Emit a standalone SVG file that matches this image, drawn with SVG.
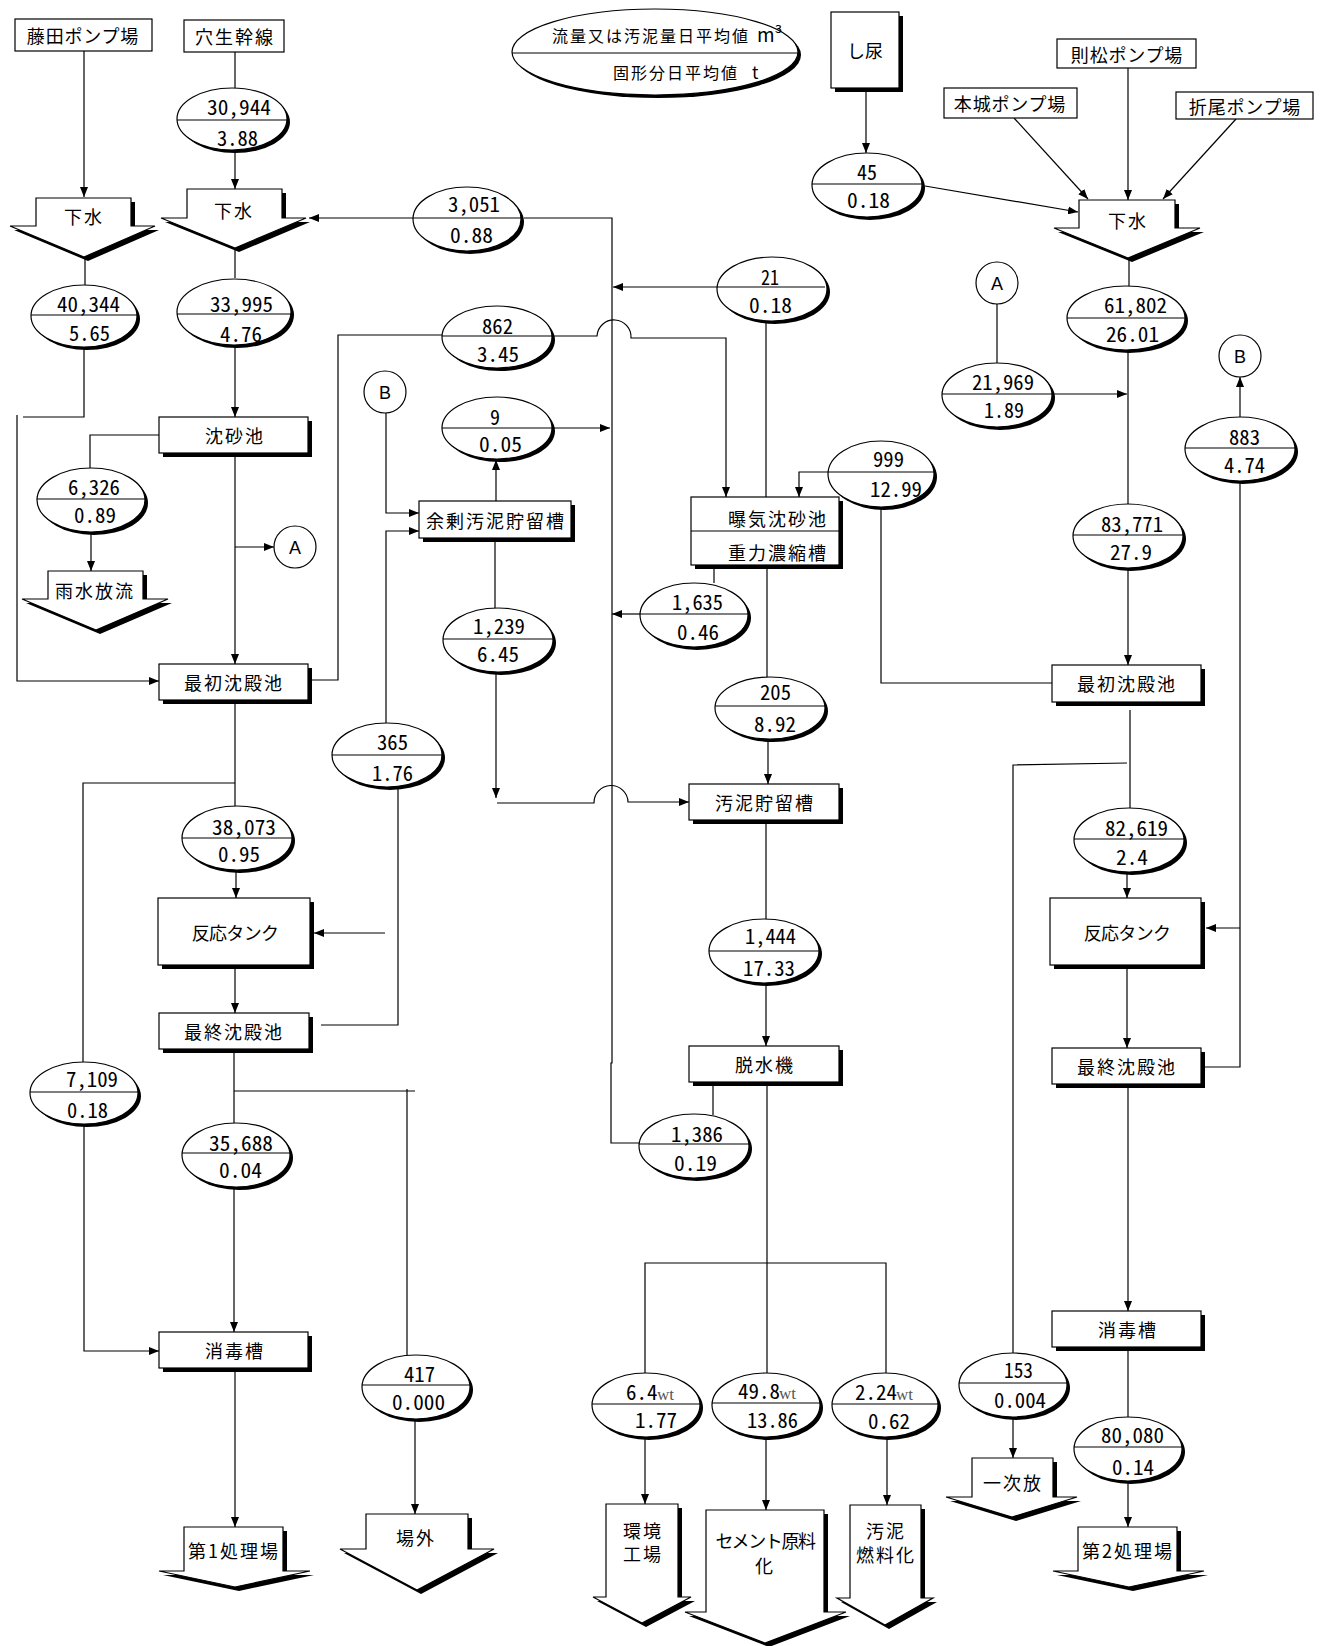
<svg xmlns="http://www.w3.org/2000/svg" width="1327" height="1646" viewBox="0 0 1327 1646">
<defs>
<style>
.ln{fill:none;stroke:#000;stroke-width:1.2}
.ar{marker-end:url(#ah)}
.bx{fill:#fff;stroke:#000;stroke-width:1.2}
.sh{fill:#000}
.dv{fill:none;stroke:#000;stroke-width:1.2}
.lb{font-family:"Noto Sans CJK JP","Noto Sans CJK SC",sans-serif;font-size:18px;letter-spacing:2px;text-anchor:middle;dominant-baseline:central;fill:#000}
.n{font-family:"Noto Sans CJK JP","Liberation Sans",sans-serif;font-size:21px;font-feature-settings:"hwid" 1;fill:#000}
.wt{font-family:"Liberation Serif",serif;font-size:17px;fill:#555;font-feature-settings:normal}
.ci{font-family:"Liberation Sans",sans-serif;font-size:18px;text-anchor:middle}
.lg{font-family:"Noto Sans CJK JP","Noto Sans CJK SC",sans-serif;font-size:16px;letter-spacing:2px}
</style>
<marker id="ah" viewBox="0 0 10 8" refX="10" refY="4" markerWidth="10" markerHeight="8" markerUnits="userSpaceOnUse" orient="auto"><path d="M0,0L10,4L0,8z"/></marker>
</defs>
<rect width="1327" height="1646" fill="#fff"/>

<g id="connectors">
<path class="ln ar" d="M84,51V197"/>
<path class="ln" d="M235,52V88"/>
<path class="ln ar" d="M235,150V189"/>
<path class="ln" d="M85,257V285"/>
<path class="ln" d="M235,248V278"/>
<path class="ln" d="M84,347V417H23"/>
<path class="ln ar" d="M17,415V681H159"/>
<path class="ln ar" d="M235,346V417"/>
<path class="ln ar" d="M413,218H309"/>
<path class="ln" d="M524,218H612V1063H611V1143H640"/>
<path class="ln ar" d="M717,287H613"/>
<path class="ln" d="M766,321V497"/>
<path class="ln" d="M308,680H338V335H442"/>
<path class="ln ar" d="M552,336H597A17,17 0 0 1 631,338H726V497"/>
<path class="ln ar" d="M552,428H610"/>
<path class="ln ar" d="M496,501V460"/>
<path class="ln ar" d="M386,413V513H419"/>
<path class="ln ar" d="M386,723V531H419"/>
<path class="ln" d="M495,538V608"/>
<path class="ln ar" d="M496,672V798"/>
<path class="ln ar" d="M497,803H594A17,17 0 0 1 628,802H689"/>
<path class="ln ar" d="M828,472H799V497"/>
<path class="ln" d="M881,507V683H1052"/>
<path class="ln" d="M714,565V583"/>
<path class="ln ar" d="M640,614H612"/>
<path class="ln" d="M767,565V677"/>
<path class="ln ar" d="M768,739V784"/>
<path class="ln" d="M766,820V920"/>
<path class="ln ar" d="M766,983V1046"/>
<path class="ln" d="M713,1082V1115"/>
<path class="ln" d="M767,1082V1373"/>
<path class="ln" d="M645,1373V1263H886V1373"/>
<path class="ln ar" d="M645,1437V1504"/>
<path class="ln ar" d="M766,1437V1510"/>
<path class="ln ar" d="M887,1437V1505"/>
<path class="ln ar" d="M866,88V153"/>
<path class="ln ar" d="M925,186L1078,212"/>
<path class="ln ar" d="M1014,118L1088,199"/>
<path class="ln ar" d="M1128,68V200"/>
<path class="ln ar" d="M1236,119L1163,199"/>
<path class="ln" d="M1129,258V286"/>
<path class="ln" d="M997,304V363"/>
<path class="ln ar" d="M1052,394H1127"/>
<path class="ln" d="M1128,350V504"/>
<path class="ln ar" d="M1240,417V377"/>
<path class="ln" d="M1240,481V1067H1205"/>
<path class="ln ar" d="M1240,928H1206"/>
<path class="ln ar" d="M1128,568V665"/>
<path class="ln" d="M1130,710V808"/>
<path class="ln" d="M1127,763L1013,765V1353"/>
<path class="ln ar" d="M1127,872V898"/>
<path class="ln ar" d="M1127,965V1048"/>
<path class="ln ar" d="M1128,1084V1311"/>
<path class="ln" d="M1128,1347V1417"/>
<path class="ln ar" d="M1128,1481V1527"/>
<path class="ln ar" d="M1013,1417V1458"/>
<path class="ln" d="M159,435H90V468"/>
<path class="ln ar" d="M91,531V571"/>
<path class="ln ar" d="M235,453V664"/>
<path class="ln ar" d="M235,547H274"/>
<path class="ln" d="M235,700V807"/>
<path class="ln" d="M235,783H83V1062"/>
<path class="ln ar" d="M236,870V898"/>
<path class="ln" d="M398,787V1025H321"/>
<path class="ln ar" d="M385,933H314"/>
<path class="ln ar" d="M235,965V1013"/>
<path class="ln" d="M234,1049V1123"/>
<path class="ln" d="M234,1091H415"/>
<path class="ln" d="M407,1089V1355"/>
<path class="ln ar" d="M84,1124V1351H159"/>
<path class="ln ar" d="M234,1187V1332"/>
<path class="ln ar" d="M235,1368V1527"/>
<path class="ln ar" d="M415,1419V1514"/>
</g>

<g id="legend"><ellipse class="sh" cx="658" cy="55" rx="143" ry="43"/><ellipse class="bx" cx="655" cy="52" rx="143" ry="43"/><path class="dv" d="M512,53H798"/>
<text class="lg" x="552" y="42">流量又は汚泥量日平均値 <tspan x="757" style="letter-spacing:0;font-size:19px">m³</tspan></text>
<text class="lg" x="613" y="79">固形分日平均値 <tspan x="752" style="letter-spacing:0;font-size:17px">t</tspan></text></g>

<g id="fujita"><rect class="bx" x="15" y="19" width="137" height="32"/><text class="lb" x="83" y="35" style="letter-spacing:0.8px">藤田ポンプ場</text></g>
<g id="anao"><rect class="bx" x="184" y="20" width="100" height="32"/><text class="lb" x="235" y="36">穴生幹線</text></g>
<g id="norimatsu"><rect class="bx" x="1057" y="39" width="139" height="29"/><text class="lb" x="1127" y="54" style="letter-spacing:0.8px">則松ポンプ場</text></g>
<g id="honjo"><rect class="bx" x="944" y="88" width="133" height="30"/><text class="lb" x="1010" y="103" style="letter-spacing:0.8px">本城ポンプ場</text></g>
<g id="orio"><rect class="bx" x="1176" y="92" width="137" height="27"/><text class="lb" x="1245" y="106" style="letter-spacing:0.8px">折尾ポンプ場</text></g>
<g id="shinyo"><rect class="sh" x="835" y="16" width="68" height="76"/><rect class="bx" x="831" y="12" width="68" height="76"/><text class="lb" x="865" y="50" style="letter-spacing:0">し尿</text></g>

<g id="gesui1"><polygon class="sh" transform="translate(4,4)" points="36,198 131,198 131,226 155,226 84,257 10,226 36,226"/><polygon class="bx" points="36,198 131,198 131,226 155,226 84,257 10,226 36,226"/><text class="lb" x="84" y="216">下水</text></g>
<g id="gesui2"><polygon class="sh" transform="translate(4,4)" points="187,189 282,189 282,218 306,218 235,248 161,218 187,218"/><polygon class="bx" points="187,189 282,189 282,218 306,218 235,248 161,218 187,218"/><text class="lb" x="234" y="210">下水</text></g>
<g id="gesui3"><polygon class="sh" transform="translate(4,4)" points="1079,200 1175,200 1175,228 1200,228 1128,258 1054,228 1079,228"/><polygon class="bx" points="1079,200 1175,200 1175,228 1200,228 1128,258 1054,228 1079,228"/><text class="lb" x="1128" y="220">下水</text></g>
<g id="usui"><polygon class="sh" transform="translate(4,4)" points="48,571 143,571 143,599 168,599 96,630 22,599 48,599"/><polygon class="bx" points="48,571 143,571 143,599 168,599 96,630 22,599 48,599"/><text class="lb" x="95" y="590">雨水放流</text></g>
<g id="dai1"><polygon class="sh" transform="translate(4,4)" points="184,1527 283,1527 283,1571 310,1571 235,1587 159,1571 184,1571"/><polygon class="bx" points="184,1527 283,1527 283,1571 310,1571 235,1587 159,1571 184,1571"/><text class="lb" x="234" y="1550">第1処理場</text></g>
<g id="jogai"><polygon class="sh" transform="translate(4,4)" points="366,1514 468,1514 468,1549 494,1549 417,1590 340,1549 366,1549"/><polygon class="bx" points="366,1514 468,1514 468,1549 494,1549 417,1590 340,1549 366,1549"/><text class="lb" x="416" y="1537">場外</text></g>
<g id="kankyo"><polygon class="sh" transform="translate(4,4)" points="606,1504 678,1504 678,1597 691,1597 642,1623 593,1597 606,1597"/><polygon class="bx" points="606,1504 678,1504 678,1597 691,1597 642,1623 593,1597 606,1597"/><text class="lb"><tspan x="643" y="1530">環境</tspan><tspan x="643" y="1553">工場</tspan></text></g>
<g id="cement"><polygon class="sh" transform="translate(4,4)" points="706,1510 824,1510 824,1612 846,1612 765,1643 685,1612 706,1612"/><polygon class="bx" points="706,1510 824,1510 824,1612 846,1612 765,1643 685,1612 706,1612"/><text class="lb"><tspan x="765" y="1540" style="letter-spacing:-1.4px">セメント原料</tspan><tspan x="765" y="1565">化</tspan></text></g>
<g id="nenryo"><polygon class="sh" transform="translate(4,4)" points="850,1505 921,1505 921,1598 933,1598 885,1625 837,1598 850,1598"/><polygon class="bx" points="850,1505 921,1505 921,1598 933,1598 885,1625 837,1598 850,1598"/><text class="lb"><tspan x="886" y="1530">汚泥</tspan><tspan x="886" y="1554">燃料化</tspan></text></g>
<g id="ichiji"><polygon class="sh" transform="translate(4,4)" points="972,1458 1053,1458 1053,1497 1077,1497 1012,1517 946,1497 972,1497"/><polygon class="bx" points="972,1458 1053,1458 1053,1497 1077,1497 1012,1517 946,1497 972,1497"/><text class="lb" x="1013" y="1482">一次放</text></g>
<g id="dai2"><polygon class="sh" transform="translate(4,4)" points="1078,1527 1177,1527 1177,1571 1204,1571 1129,1587 1053,1571 1078,1571"/><polygon class="bx" points="1078,1527 1177,1527 1177,1571 1204,1571 1129,1587 1053,1571 1078,1571"/><text class="lb" x="1128" y="1550">第2処理場</text></g>

<g id="chinsachi"><rect class="sh" x="163" y="421" width="149" height="36"/><rect class="bx" x="159" y="417" width="149" height="36"/><text class="lb" x="235" y="435">沈砂池</text></g>
<g id="saisho1"><rect class="sh" x="163" y="668" width="149" height="36"/><rect class="bx" x="159" y="664" width="149" height="36"/><text class="lb" x="234" y="682">最初沈殿池</text></g>
<g id="hanno1"><rect class="sh" x="162" y="902" width="152" height="67"/><rect class="bx" x="158" y="898" width="152" height="67"/><text class="lb" x="235" y="932" style="letter-spacing:-0.7px">反応タンク</text></g>
<g id="saishu1"><rect class="sh" x="163" y="1017" width="150" height="36"/><rect class="bx" x="159" y="1013" width="150" height="36"/><text class="lb" x="234" y="1031">最終沈殿池</text></g>
<g id="shodoku1"><rect class="sh" x="163" y="1336" width="149" height="36"/><rect class="bx" x="159" y="1332" width="149" height="36"/><text class="lb" x="235" y="1350">消毒槽</text></g>
<g id="yojo"><rect class="sh" x="423" y="505" width="152" height="37"/><rect class="bx" x="419" y="501" width="152" height="37"/><text class="lb" x="496" y="520">余剰汚泥貯留槽</text></g>
<g id="bakki"><rect class="sh" x="695" y="501" width="148" height="68"/><rect class="bx" x="691" y="497" width="148" height="68"/><path class="dv" d="M691,531H839"/><text class="lb" x="778" y="518">曝気沈砂池</text><text class="lb" x="778" y="552">重力濃縮槽</text></g>
<g id="odei"><rect class="sh" x="693" y="788" width="150" height="36"/><rect class="bx" x="689" y="784" width="150" height="36"/><text class="lb" x="765" y="802">汚泥貯留槽</text></g>
<g id="dassui"><rect class="sh" x="693" y="1050" width="150" height="36"/><rect class="bx" x="689" y="1046" width="150" height="36"/><text class="lb" x="765" y="1064">脱水機</text></g>
<g id="saisho2"><rect class="sh" x="1056" y="669" width="149" height="37"/><rect class="bx" x="1052" y="665" width="149" height="37"/><text class="lb" x="1127" y="683">最初沈殿池</text></g>
<g id="hanno2"><rect class="sh" x="1054" y="902" width="151" height="67"/><rect class="bx" x="1050" y="898" width="151" height="67"/><text class="lb" x="1127" y="932" style="letter-spacing:-0.7px">反応タンク</text></g>
<g id="saishu2"><rect class="sh" x="1056" y="1052" width="149" height="36"/><rect class="bx" x="1052" y="1048" width="149" height="36"/><text class="lb" x="1127" y="1066">最終沈殿池</text></g>
<g id="shodoku2"><rect class="sh" x="1056" y="1315" width="149" height="36"/><rect class="bx" x="1052" y="1311" width="149" height="36"/><text class="lb" x="1128" y="1329">消毒槽</text></g>

<g id="cB1"><circle class="bx" cx="385" cy="392" r="21"/><text class="ci" x="385" y="399">B</text></g>
<g id="cA1"><circle class="bx" cx="295" cy="547" r="21"/><text class="ci" x="295" y="554">A</text></g>
<g id="cA2"><circle class="bx" cx="997" cy="283" r="21"/><text class="ci" x="997" y="290">A</text></g>
<g id="cB2"><circle class="bx" cx="1240" cy="356" r="21"/><text class="ci" x="1240" y="363">B</text></g>

<g id="q1"><ellipse class="sh" cx="235" cy="122" rx="55" ry="31"/><ellipse class="bx" cx="232" cy="119" rx="55" ry="31"/><path class="dv" d="M177,120H287"/><text class="n" x="207" y="115" textLength="64" lengthAdjust="spacingAndGlyphs">30,944</text><text class="n" x="217" y="146" textLength="41" lengthAdjust="spacingAndGlyphs">3.88</text></g>
<g id="q2"><ellipse class="sh" cx="87" cy="319" rx="53" ry="31"/><ellipse class="bx" cx="84" cy="316" rx="53" ry="31"/><path class="dv" d="M31,315H137"/><text class="n" x="57" y="312" textLength="63" lengthAdjust="spacingAndGlyphs">40,344</text><text class="n" x="69" y="341" textLength="41" lengthAdjust="spacingAndGlyphs">5.65</text></g>
<g id="q3"><ellipse class="sh" cx="237" cy="315" rx="57" ry="33"/><ellipse class="bx" cx="234" cy="312" rx="57" ry="33"/><path class="dv" d="M177,314H291"/><text class="n" x="210" y="312" textLength="63" lengthAdjust="spacingAndGlyphs">33,995</text><text class="n" x="220" y="342" textLength="42" lengthAdjust="spacingAndGlyphs">4.76</text></g>
<g id="q4"><ellipse class="sh" cx="470" cy="222" rx="54" ry="32"/><ellipse class="bx" cx="467" cy="219" rx="54" ry="32"/><path class="dv" d="M413,218H521"/><text class="n" x="448" y="212" textLength="52" lengthAdjust="spacingAndGlyphs">3,051</text><text class="n" x="450" y="243" textLength="43" lengthAdjust="spacingAndGlyphs">0.88</text></g>
<g id="q5"><ellipse class="sh" cx="870" cy="188" rx="55" ry="32"/><ellipse class="bx" cx="867" cy="185" rx="55" ry="32"/><path class="dv" d="M812,184H922"/><text class="n" x="857" y="180" textLength="20" lengthAdjust="spacingAndGlyphs">45</text><text class="n" x="847" y="208" textLength="43" lengthAdjust="spacingAndGlyphs">0.18</text></g>
<g id="q6"><ellipse class="sh" cx="775" cy="292" rx="55" ry="32"/><ellipse class="bx" cx="772" cy="289" rx="55" ry="32"/><path class="dv" d="M717,287H825"/><text class="n" x="761" y="285" textLength="18" lengthAdjust="spacingAndGlyphs">21</text><text class="n" x="749" y="313" textLength="43" lengthAdjust="spacingAndGlyphs">0.18</text></g>
<g id="q7"><ellipse class="sh" cx="500" cy="340" rx="55" ry="31"/><ellipse class="bx" cx="497" cy="337" rx="55" ry="31"/><path class="dv" d="M442,336H552"/><text class="n" x="482" y="334" textLength="31" lengthAdjust="spacingAndGlyphs">862</text><text class="n" x="477" y="362" textLength="42" lengthAdjust="spacingAndGlyphs">3.45</text></g>
<g id="q8"><ellipse class="sh" cx="500" cy="431" rx="55" ry="31"/><ellipse class="bx" cx="497" cy="428" rx="55" ry="31"/><path class="dv" d="M442,428H552"/><text class="n" x="490" y="425" textLength="10" lengthAdjust="spacingAndGlyphs">9</text><text class="n" x="479" y="452" textLength="43" lengthAdjust="spacingAndGlyphs">0.05</text></g>
<g id="q9"><ellipse class="sh" cx="1129" cy="321" rx="59" ry="32"/><ellipse class="bx" cx="1126" cy="318" rx="59" ry="32"/><path class="dv" d="M1067,318H1185"/><text class="n" x="1104" y="313" textLength="63" lengthAdjust="spacingAndGlyphs">61,802</text><text class="n" x="1106" y="342" textLength="53" lengthAdjust="spacingAndGlyphs">26.01</text></g>
<g id="q10"><ellipse class="sh" cx="1000" cy="398" rx="55" ry="32"/><ellipse class="bx" cx="997" cy="395" rx="55" ry="32"/><path class="dv" d="M942,394H1052"/><text class="n" x="972" y="390" textLength="62" lengthAdjust="spacingAndGlyphs">21,969</text><text class="n" x="984" y="418" textLength="40" lengthAdjust="spacingAndGlyphs">1.89</text></g>
<g id="q11"><ellipse class="sh" cx="1243" cy="452" rx="55" ry="32"/><ellipse class="bx" cx="1240" cy="449" rx="55" ry="32"/><path class="dv" d="M1185,448H1295"/><text class="n" x="1229" y="445" textLength="31" lengthAdjust="spacingAndGlyphs">883</text><text class="n" x="1224" y="473" textLength="41" lengthAdjust="spacingAndGlyphs">4.74</text></g>
<g id="q12"><ellipse class="sh" cx="884" cy="477" rx="53" ry="33"/><ellipse class="bx" cx="881" cy="474" rx="53" ry="33"/><path class="dv" d="M828,472H934"/><text class="n" x="873" y="467" textLength="31" lengthAdjust="spacingAndGlyphs">999</text><text class="n" x="870" y="497" textLength="52" lengthAdjust="spacingAndGlyphs">12.99</text></g>
<g id="q13"><ellipse class="sh" cx="1131" cy="539" rx="55" ry="32"/><ellipse class="bx" cx="1128" cy="536" rx="55" ry="32"/><path class="dv" d="M1073,535H1183"/><text class="n" x="1101" y="532" textLength="62" lengthAdjust="spacingAndGlyphs">83,771</text><text class="n" x="1110" y="560" textLength="42" lengthAdjust="spacingAndGlyphs">27.9</text></g>
<g id="q14"><ellipse class="sh" cx="94" cy="503" rx="54" ry="32"/><ellipse class="bx" cx="91" cy="500" rx="54" ry="32"/><path class="dv" d="M37,499H145"/><text class="n" x="68" y="495" textLength="52" lengthAdjust="spacingAndGlyphs">6,326</text><text class="n" x="74" y="523" textLength="42" lengthAdjust="spacingAndGlyphs">0.89</text></g>
<g id="q15"><ellipse class="sh" cx="501" cy="643" rx="55" ry="32"/><ellipse class="bx" cx="498" cy="640" rx="55" ry="32"/><path class="dv" d="M443,639H553"/><text class="n" x="473" y="634" textLength="52" lengthAdjust="spacingAndGlyphs">1,239</text><text class="n" x="477" y="662" textLength="42" lengthAdjust="spacingAndGlyphs">6.45</text></g>
<g id="q16"><ellipse class="sh" cx="697" cy="618" rx="54" ry="32"/><ellipse class="bx" cx="694" cy="615" rx="54" ry="32"/><path class="dv" d="M640,614H748"/><text class="n" x="672" y="610" textLength="51" lengthAdjust="spacingAndGlyphs">1,635</text><text class="n" x="677" y="640" textLength="42" lengthAdjust="spacingAndGlyphs">0.46</text></g>
<g id="q17"><ellipse class="sh" cx="773" cy="711" rx="55" ry="31"/><ellipse class="bx" cx="770" cy="708" rx="55" ry="31"/><path class="dv" d="M715,706H825"/><text class="n" x="760" y="700" textLength="31" lengthAdjust="spacingAndGlyphs">205</text><text class="n" x="754" y="732" textLength="42" lengthAdjust="spacingAndGlyphs">8.92</text></g>
<g id="q18"><ellipse class="sh" cx="390" cy="758" rx="55" ry="32"/><ellipse class="bx" cx="387" cy="755" rx="55" ry="32"/><path class="dv" d="M332,755H442"/><text class="n" x="377" y="750" textLength="31" lengthAdjust="spacingAndGlyphs">365</text><text class="n" x="372" y="781" textLength="41" lengthAdjust="spacingAndGlyphs">1.76</text></g>
<g id="q19"><ellipse class="sh" cx="240" cy="841" rx="55" ry="32"/><ellipse class="bx" cx="237" cy="838" rx="55" ry="32"/><path class="dv" d="M182,838H292"/><text class="n" x="212" y="835" textLength="64" lengthAdjust="spacingAndGlyphs">38,073</text><text class="n" x="218" y="862" textLength="42" lengthAdjust="spacingAndGlyphs">0.95</text></g>
<g id="q20"><ellipse class="sh" cx="87" cy="1096" rx="54" ry="31"/><ellipse class="bx" cx="84" cy="1093" rx="54" ry="31"/><path class="dv" d="M30,1092H138"/><text class="n" x="66" y="1087" textLength="52" lengthAdjust="spacingAndGlyphs">7,109</text><text class="n" x="67" y="1118" textLength="41" lengthAdjust="spacingAndGlyphs">0.18</text></g>
<g id="q21"><ellipse class="sh" cx="239" cy="1158" rx="54" ry="32"/><ellipse class="bx" cx="236" cy="1155" rx="54" ry="32"/><path class="dv" d="M182,1153H290"/><text class="n" x="209" y="1151" textLength="64" lengthAdjust="spacingAndGlyphs">35,688</text><text class="n" x="219" y="1178" textLength="43" lengthAdjust="spacingAndGlyphs">0.04</text></g>
<g id="q22"><ellipse class="sh" cx="1132" cy="843" rx="55" ry="32"/><ellipse class="bx" cx="1129" cy="840" rx="55" ry="32"/><path class="dv" d="M1074,839H1184"/><text class="n" x="1105" y="836" textLength="63" lengthAdjust="spacingAndGlyphs">82,619</text><text class="n" x="1116" y="865" textLength="32" lengthAdjust="spacingAndGlyphs">2.4</text></g>
<g id="q23"><ellipse class="sh" cx="767" cy="954" rx="55" ry="32"/><ellipse class="bx" cx="764" cy="951" rx="55" ry="32"/><path class="dv" d="M709,951H819"/><text class="n" x="745" y="944" textLength="51" lengthAdjust="spacingAndGlyphs">1,444</text><text class="n" x="743" y="976" textLength="52" lengthAdjust="spacingAndGlyphs">17.33</text></g>
<g id="q24"><ellipse class="sh" cx="697" cy="1149" rx="55" ry="32"/><ellipse class="bx" cx="694" cy="1146" rx="55" ry="32"/><path class="dv" d="M639,1144H749"/><text class="n" x="671" y="1142" textLength="52" lengthAdjust="spacingAndGlyphs">1,386</text><text class="n" x="674" y="1171" textLength="43" lengthAdjust="spacingAndGlyphs">0.19</text></g>
<g id="q25"><ellipse class="sh" cx="419" cy="1390" rx="54" ry="32"/><ellipse class="bx" cx="416" cy="1387" rx="54" ry="32"/><path class="dv" d="M362,1385H470"/><text class="n" x="404" y="1382" textLength="31" lengthAdjust="spacingAndGlyphs">417</text><text class="n" x="392" y="1410" textLength="53" lengthAdjust="spacingAndGlyphs">0.000</text></g>
<g id="q26"><ellipse class="sh" cx="649" cy="1408" rx="54" ry="32"/><ellipse class="bx" cx="646" cy="1405" rx="54" ry="32"/><path class="dv" d="M592,1404H700"/><text class="n" x="626" y="1400">6.4<tspan class="wt" x="657">wt</tspan></text><text class="n" x="635" y="1428" textLength="42" lengthAdjust="spacingAndGlyphs">1.77</text></g>
<g id="q27"><ellipse class="sh" cx="769" cy="1408" rx="54" ry="32"/><ellipse class="bx" cx="766" cy="1405" rx="54" ry="32"/><path class="dv" d="M712,1403H820"/><text class="n" x="738" y="1399">49.8<tspan class="wt" x="779">wt</tspan></text><text class="n" x="747" y="1428" textLength="51" lengthAdjust="spacingAndGlyphs">13.86</text></g>
<g id="q28"><ellipse class="sh" cx="888" cy="1408" rx="53" ry="32"/><ellipse class="bx" cx="885" cy="1405" rx="53" ry="32"/><path class="dv" d="M832,1404H938"/><text class="n" x="855" y="1400">2.24<tspan class="wt" x="896">wt</tspan></text><text class="n" x="868" y="1429" textLength="42" lengthAdjust="spacingAndGlyphs">0.62</text></g>
<g id="q29"><ellipse class="sh" cx="1016" cy="1388" rx="54" ry="32"/><ellipse class="bx" cx="1013" cy="1385" rx="54" ry="32"/><path class="dv" d="M959,1383H1067"/><text class="n" x="1004" y="1378" textLength="29" lengthAdjust="spacingAndGlyphs">153</text><text class="n" x="994" y="1408" textLength="52" lengthAdjust="spacingAndGlyphs">0.004</text></g>
<g id="q30"><ellipse class="sh" cx="1131" cy="1452" rx="54" ry="32"/><ellipse class="bx" cx="1128" cy="1449" rx="54" ry="32"/><path class="dv" d="M1074,1447H1182"/><text class="n" x="1101" y="1443" textLength="63" lengthAdjust="spacingAndGlyphs">80,080</text><text class="n" x="1112" y="1475" textLength="42" lengthAdjust="spacingAndGlyphs">0.14</text></g>
</svg>
